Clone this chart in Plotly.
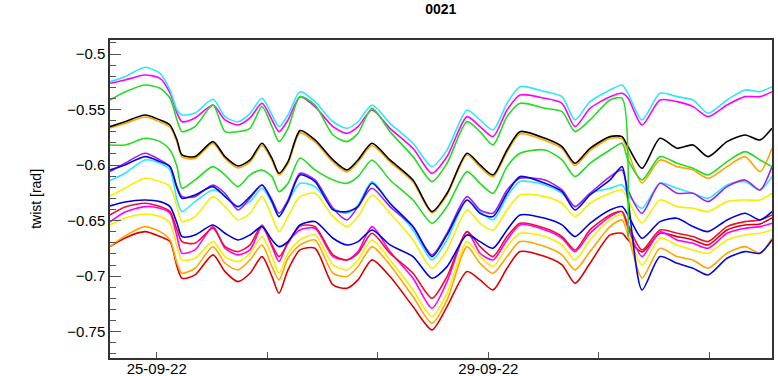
import plotly.graph_objects as go

# time in hours since 25-09-22 00:00
hours = [-13.52, -9.18, -3.39, 0.96, 3.85, 5.88, 7.32, 11.09, 16.30, 19.77, 23.54, 27.01,
         30.49, 33.38, 35.41, 38.01, 41.49, 45.83, 51.04, 55.09, 58.28, 62.33, 67.54, 74.20,
         79.70, 84.05, 89.84, 93.60, 97.36, 101.42, 105.18, 112.42, 117.34, 121.10, 125.44,
         131.24, 134.71, 136.45, 140.50, 145.71, 150.63, 155.26, 159.61, 165.11, 170.32,
         174.66, 178.13]

cyan_a = [-0.5249, -0.5204, -0.5120, -0.5174, -0.5324, -0.5504, -0.5549, -0.5531, -0.5408, -0.5564,
          -0.5610, -0.5534, -0.5399, -0.5549, -0.5654, -0.5549, -0.5339, -0.5429, -0.5610, -0.5669,
          -0.5610, -0.5459, -0.5624, -0.5804, -0.6014, -0.5864, -0.5504, -0.5594, -0.5684, -0.5444,
          -0.5294, -0.5339, -0.5384, -0.5594, -0.5429, -0.5324, -0.5279, -0.5354, -0.5594, -0.5354,
          -0.5384, -0.5414, -0.5534, -0.5414, -0.5324, -0.5339, -0.5294]
magenta_b = [-0.5264, -0.5234, -0.5189, -0.5219, -0.5351, -0.5531, -0.5609, -0.5576, -0.5459, -0.5594,
             -0.5639, -0.5576, -0.5444, -0.5594, -0.5699, -0.5594, -0.5384, -0.5474, -0.5654, -0.5714,
             -0.5654, -0.5504, -0.5669, -0.5849, -0.6074, -0.5924, -0.5564, -0.5654, -0.5744, -0.5504,
             -0.5369, -0.5399, -0.5444, -0.5654, -0.5489, -0.5384, -0.5354, -0.5396, -0.5639, -0.5414,
             -0.5429, -0.5474, -0.5564, -0.5459, -0.5384, -0.5384, -0.5339]
green_c = [-0.5414, -0.5342, -0.5279, -0.5309, -0.5396, -0.5594, -0.5699, -0.5654, -0.5459, -0.5699,
           -0.5699, -0.5669, -0.5474, -0.5654, -0.5789, -0.5669, -0.5384, -0.5459, -0.5729, -0.5789,
           -0.5714, -0.5489, -0.5699, -0.5924, -0.6149, -0.5984, -0.5609, -0.5699, -0.5819, -0.5564,
           -0.5444, -0.5489, -0.5519, -0.5699, -0.5594, -0.5414, -0.5399, -0.6647, None, None,
           None, None, None, None, None, None, None]
black_d = [-0.5654, -0.5609, -0.5549, -0.5594, -0.5639, -0.5774, -0.5909, -0.5924, -0.5789, -0.5924,
           -0.6008, -0.5954, -0.5804, -0.5939, -0.6074, -0.5969, -0.5690, -0.5774, -0.5954, -0.6044,
           -0.5954, -0.5804, -0.5954, -0.6134, -0.6419, -0.6254, -0.5894, -0.5999, -0.6089, -0.5864,
           -0.5699, -0.5759, -0.5834, -0.5984, -0.5849, -0.5744, -0.5744, -0.5834, -0.6029, -0.5759,
           -0.5849, -0.5819, -0.5924, -0.5789, -0.5729, -0.5774, -0.5669]
orange_e = [-0.5666, -0.5626, -0.5567, -0.5612, -0.5657, -0.5792, -0.5927, -0.5941, -0.5806, -0.5941,
            -0.6026, -0.5972, -0.5824, -0.5959, -0.6089, -0.5986, -0.5711, -0.5792, -0.5972, -0.6062,
            -0.5972, -0.5824, -0.5972, -0.6152, -0.6431, -0.6269, -0.5909, -0.6017, -0.6107, -0.5882,
            -0.5720, -0.5779, -0.5851, -0.6004, -0.5869, -0.5761, -0.5761, -0.5882, -0.6161, -0.5954,
            -0.6014, -0.6044, -0.6119, -0.6014, -0.5924, -0.6059, -0.5849]
green_f = [-0.5819, -0.5819, -0.5759, -0.5789, -0.5864, -0.6014, -0.6209, -0.6134, -0.6014, -0.6089,
           -0.6194, -0.6089, -0.6044, -0.6104, -0.6239, -0.6164, -0.5936, -0.6044, -0.6134, -0.6164,
           -0.6104, -0.5954, -0.6134, -0.6314, -0.6524, -0.6374, -0.6059, -0.6164, -0.6254, -0.6014,
           -0.5894, -0.5864, -0.5954, -0.6104, -0.5984, -0.5864, -0.5804, -0.5954, -0.6134, -0.5924,
           -0.5984, -0.6029, -0.6089, -0.5969, -0.5879, -0.5954, -0.6014]
purple_g = [-0.6059, -0.5984, -0.5894, -0.5954, -0.6014, -0.6194, -0.6284, -0.6284, -0.6179, -0.6254,
            -0.6404, -0.6299, -0.6179, -0.6314, -0.6434, -0.6314, -0.6074, -0.6134, -0.6389, -0.6494,
            -0.6374, -0.6209, -0.6374, -0.6554, -0.6809, -0.6614, -0.6284, -0.6404, -0.6434, -0.6224,
            -0.6119, -0.6134, -0.6224, -0.6374, -0.6254, -0.6104, -0.6044, -0.6224, -0.6434, -0.6164,
            -0.6254, -0.6254, -0.6329, -0.6194, -0.6134, -0.6224, -0.6014]
blue_h = [-0.6044, -0.5999, -0.5924, -0.5969, -0.6014, -0.6209, -0.6299, -0.6269, -0.6194, -0.6284,
          -0.6374, -0.6284, -0.6179, -0.6329, -0.6464, -0.6329, -0.6089, -0.6149, -0.6404, -0.6419,
          -0.6374, -0.6164, -0.6344, -0.6554, -0.6824, -0.6629, -0.6314, -0.6434, -0.6464, -0.6254,
          -0.6104, -0.6164, -0.6239, -0.6404, -0.6269, -0.6134, -0.6014, -0.6314, -0.7124, -0.6824,
          -0.6884, -0.6929, -0.6989, -0.6839, -0.6779, -0.6794, -0.6674]
cyan_i = [-0.6140, -0.6074, -0.5954, -0.5984, -0.6044, -0.6314, -0.6419, -0.6329, -0.6224, -0.6269,
          -0.6374, -0.6329, -0.6209, -0.6344, -0.6464, -0.6329, -0.6164, -0.6194, -0.6389, -0.6434,
          -0.6359, -0.6149, -0.6344, -0.6584, -0.6854, -0.6674, -0.6314, -0.6419, -0.6494, -0.6284,
          -0.6149, -0.6179, -0.6254, -0.6374, -0.6254, -0.6209, -0.6179, -0.6269, -0.6389, -0.6164,
          -0.6209, -0.6254, -0.6299, -0.6179, -0.6149, -0.6224, -0.6104]
yellow_j = [-0.6278, -0.6209, -0.6119, -0.6149, -0.6194, -0.6374, -0.6509, -0.6464, -0.6284, -0.6374,
            -0.6494, -0.6434, -0.6284, -0.6464, -0.6599, -0.6464, -0.6284, -0.6254, -0.6464, -0.6554,
            -0.6464, -0.6269, -0.6434, -0.6674, -0.6929, -0.6764, -0.6404, -0.6524, -0.6584, -0.6404,
            -0.6269, -0.6284, -0.6344, -0.6464, -0.6344, -0.6254, -0.6224, -0.6314, -0.6521, -0.6314,
            -0.6374, -0.6389, -0.6419, -0.6329, -0.6314, -0.6314, -0.6254]
blue_k = [-0.6368, -0.6332, -0.6314, -0.6329, -0.6374, -0.6524, -0.6644, -0.6629, -0.6539, -0.6614,
          -0.6674, -0.6629, -0.6554, -0.6674, -0.6734, -0.6689, -0.6539, -0.6509, -0.6659, -0.6719,
          -0.6689, -0.6584, -0.6719, -0.6824, -0.7019, -0.6914, -0.6629, -0.6689, -0.6749, -0.6584,
          -0.6449, -0.6479, -0.6539, -0.6644, -0.6524, -0.6404, -0.6374, -0.6449, -0.6659, -0.6509,
          -0.6479, -0.6554, -0.6599, -0.6494, -0.6434, -0.6494, -0.6419]
red_l = [-0.6449, -0.6377, -0.6344, -0.6374, -0.6419, -0.6584, -0.6689, -0.6704, -0.6569, -0.6734,
         -0.6779, -0.6719, -0.6539, -0.6719, -0.6824, -0.6704, -0.6548, -0.6554, -0.6809, -0.6854,
         -0.6794, -0.6614, -0.6794, -0.6974, -0.7199, -0.7004, -0.6599, -0.6734, -0.6824, -0.6644,
         -0.6524, -0.6569, -0.6644, -0.6764, -0.6584, -0.6449, -0.6419, -0.6539, -0.6764, -0.6584,
         -0.6614, -0.6644, -0.6689, -0.6554, -0.6509, -0.6494, -0.6449]
magenta_m = [-0.6512, -0.6422, -0.6374, -0.6389, -0.6434, -0.6644, -0.6794, -0.6764, -0.6554, -0.6749,
             -0.6809, -0.6764, -0.6554, -0.6734, -0.6869, -0.6689, -0.6584, -0.6569, -0.6824, -0.6854,
             -0.6779, -0.6554, -0.6779, -0.7019, -0.7289, -0.7049, -0.6599, -0.6794, -0.6854, -0.6674,
             -0.6539, -0.6584, -0.6659, -0.6779, -0.6614, -0.6464, -0.6419, -0.6566, -0.6824, -0.6602,
             -0.6674, -0.6704, -0.6749, -0.6614, -0.6569, -0.6554, -0.6524]
yellow_n = [-0.6539, -0.6476, -0.6440, -0.6464, -0.6524, -0.6734, -0.6854, -0.6839, -0.6689, -0.6824,
            -0.6869, -0.6794, -0.6644, -0.6824, -0.6974, -0.6794, -0.6674, -0.6629, -0.6899, -0.6944,
            -0.6854, -0.6674, -0.6854, -0.7124, -0.7364, -0.7154, -0.6689, -0.6824, -0.6914, -0.6734,
            -0.6614, -0.6644, -0.6719, -0.6854, -0.6674, -0.6494, -0.6449, -0.6602, -0.6899, -0.6659,
            -0.6719, -0.6764, -0.6794, -0.6674, -0.6629, -0.6614, -0.6584]
orange_o = [-0.6734, -0.6638, -0.6554, -0.6599, -0.6674, -0.6884, -0.6974, -0.6929, -0.6734, -0.6884,
            -0.6944, -0.6854, -0.6719, -0.6914, -0.7034, -0.6839, -0.6719, -0.6674, -0.6974, -0.7004,
            -0.6914, -0.6734, -0.6899, -0.7184, -0.7424, -0.7214, -0.6734, -0.6884, -0.6974, -0.6824,
            -0.6689, -0.6734, -0.6809, -0.6944, -0.6779, -0.6554, -0.6494, -0.6629, -0.7016, -0.6749,
            -0.6824, -0.6854, -0.6929, -0.6794, -0.6734, -0.6794, -0.6659]
red_p = [-0.6734, -0.6656, -0.6599, -0.6644, -0.6689, -0.6914, -0.7019, -0.6989, -0.6809, -0.6959,
         -0.7049, -0.6974, -0.6824, -0.7004, -0.7154, -0.6944, -0.6764, -0.6749, -0.7079, -0.7109,
         -0.7034, -0.6854, -0.7004, -0.7274, -0.7484, -0.7274, -0.6959, -0.7034, -0.7124, -0.6929,
         -0.6779, -0.6824, -0.6899, -0.7064, -0.6884, -0.6629, -0.6614, -0.6674, -0.6782, -0.6614,
         -0.6644, -0.6674, -0.6719, -0.6584, -0.6539, -0.6530, -0.6476]

tick_hours = [0, 32, 64, 96, 128, 160]
tick_labels = ["25-09-22", "", "", "29-09-22", "", ""]
y_tick_vals = [-0.75, -0.7, -0.65, -0.6, -0.55, -0.5]
y_tick_text = ["\u22120.75", "\u22120.7", "\u22120.65", "\u22120.6", "\u22120.55", "\u22120.5"]

series = [
    (red_p, "#dd0000"),
    (orange_o, "#ffa500"),
    (yellow_n, "#f7ee00"),
    (magenta_m, "#ff00ff"),
    (red_l, "#ee1133"),
    (blue_k, "#0000dd"),
    (yellow_j, "#f7ee00"),
    (cyan_i, "#2ee6ff"),
    (purple_g, "#a020f0"),
    (blue_h, "#0a0ad8"),
    (orange_e, "#ffa500"),
    (green_f, "#22dd22"),
    (black_d, "#000000"),
    (magenta_b, "#ff00ff"),
    (cyan_a, "#2ee6ff"),
    (green_c, "#22dd22"),
]

fig = go.Figure()
for vals, col in series:
    fig.add_trace(go.Scatter(x=hours, y=vals, mode="lines",
                             line=dict(color=col, width=1.6, shape="spline", smoothing=0.7),
                             connectgaps=False, showlegend=False, hoverinfo="skip"))

font_main = "Liberation Sans, Arial, Helvetica, sans-serif"

fig.update_layout(
    width=778, height=376,
    margin=dict(l=110, r=6, t=40, b=18),
    paper_bgcolor="white", plot_bgcolor="white",
    font=dict(family=font_main, size=15, color="black"),
    title=dict(text="<b>0021</b>", x=0.5665, xanchor="center", y=0.99, yanchor="top",
               font=dict(family=font_main, size=14, color="black")),
    showlegend=False,
)

fig.update_xaxes(
    range=[-13.52, 178.13], automargin=False,
    tickmode="array", tickvals=tick_hours, ticktext=tick_labels,
    ticks="inside", ticklen=6, tickwidth=1, tickcolor="#555",
    ticklabelstandoff=-4,
    showline=True, linecolor="#333", linewidth=1.5, mirror=True,
    showgrid=False, zeroline=False,
    tickfont=dict(family=font_main, size=15, color="black"),
)
fig.update_yaxes(
    range=[-0.7737, -0.4874], automargin=False,
    tickmode="array", tickvals=y_tick_vals, ticktext=y_tick_text,
    ticks="inside", ticklen=11, tickwidth=1, tickcolor="#555",
    minor=dict(ticks="inside", ticklen=6, tickcolor="#555", tickwidth=1,
               tickmode="linear", tick0=-0.5, dtick=0.01, showgrid=False),
    showline=True, linecolor="#333", linewidth=1.5, mirror=True,
    showgrid=False, zeroline=False,
    tickfont=dict(family=font_main, size=15, color="black"),
)

fig.add_annotation(text="twist [rad]", xref="paper", yref="paper",
                   x=-0.112, y=0.5, textangle=-90, showarrow=False,
                   xanchor="center", yanchor="middle",
                   font=dict(family=font_main, size=14, color="black"))

# remove the default page margin so the figure fills the window exactly
fig.write_html("out.html",
               config={"displayModeBar": False},
               post_script="document.body.style.margin='0';document.body.style.overflow='hidden';")
